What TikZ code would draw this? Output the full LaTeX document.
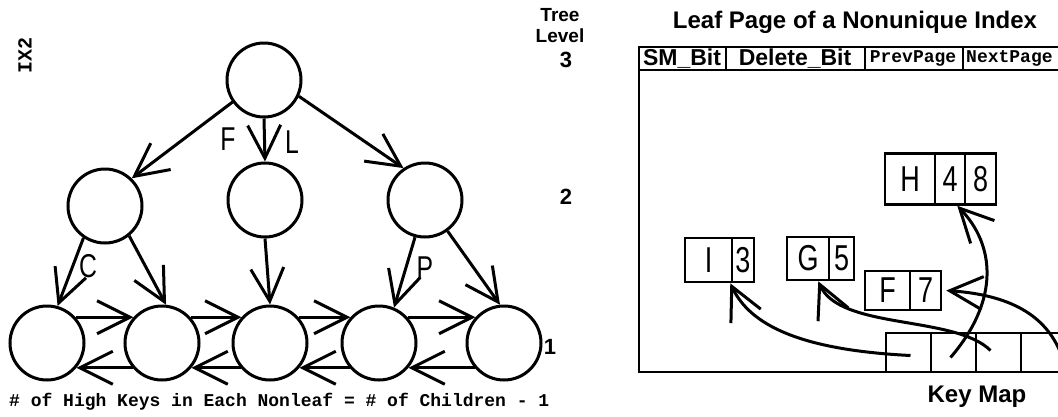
\documentclass[tikz,border=0pt]{standalone}
\usepackage{fontspec}
\setmainfont{Liberation Sans}
\newfontfamily\monof{Liberation Mono}
\newfontfamily\condf[FakeStretch=0.75]{Liberation Sans}
\usetikzlibrary{arrows.meta}
\begin{document}
\begin{tikzpicture}[x=1pt,y=-1pt,
  nd/.style={circle,draw,line width=3pt,minimum size=74pt,inner sep=0pt},
  arr/.style={line width=3pt,-{Straight Barb[length=33pt,width=33pt]}},
  ln/.style={line width=2.8pt},
  lbl/.style={inner sep=0pt,font=\condf\fontsize{33}{33}\selectfont},
  cell/.style={draw,line width=2.6pt,inner sep=0pt,font=\condf\fontsize{36}{36}\selectfont},
  kcell/.style={draw,line width=2.8pt,inner sep=0pt,minimum width=45pt,minimum height=39pt},
  hdr/.style={inner sep=0pt,font=\bfseries\fontsize{23}{23}\selectfont},
  mono/.style={inner sep=0pt,font=\monof\bfseries\fontsize{18}{18}\selectfont},
  lvl/.style={inner sep=0pt,font=\bfseries\fontsize{19}{21}\selectfont},
  num/.style={inner sep=0pt,font=\bfseries\fontsize{22}{22}\selectfont}]
\useasboundingbox (0,0) rectangle (1058,416);
\clip (0,0) rectangle (1058,416);

% ---------------- left: tree ----------------
\node[nd] (r)  at (264,80) {};
\node[nd] (a)  at (105,206) {};
\node[nd] (b)  at (265,200) {};
\node[nd] (c)  at (425,200) {};
\node[nd] (l1) at (47,343) {};
\node[nd] (l2) at (162,343) {};
\node[nd] (l3) at (270,343) {};
\node[nd] (l4) at (379,343) {};
\node[nd] (l5) at (504,343) {};

\draw[arr] (r.-145) -- (a.46);
\draw[arr] (r.south) -- (b.north);
\draw[arr] (r.-25) -- (c.124);
\draw[arr] (a.-124) -- (l1.74);
\draw[arr] (a.-51) -- (l2.84);
\draw[arr] (b.south) -- (l3.north);
\draw[arr] (c.-105) -- (l4.67);
\draw[arr] (c.-54) -- (l5.96);

\foreach \p/\q in {l1/l2,l2/l3,l3/l4,l4/l5}{
  \draw[arr] (\p.42) -- (\q.138);
  \draw[arr] (\q.-140) -- (\p.-40);
}

\node[lbl] (tF) at (228,139) {F};
\node[lbl] (tL) at (292,142) {L};
\node[lbl] (tC) at (88,266) {C};
\node[lbl] (tP) at (425,268) {P};

\node[mono,rotate=90,font=\monof\bfseries\fontsize{20}{20}\selectfont] (ix) at (25,55) {IX2};
\node[mono,anchor=west] (note) at (9,402) {\# of High Keys in Each Nonleaf = \# of Children - 1};

\node[lvl] (tree) at (560,15) {Tree};
\node[lvl] (level) at (560,36) {Level};
\node[num] (n3) at (566,60) {3};
\node[num] (n2) at (566,197) {2};
\node[num] (n1) at (550,347) {1};

% ---------------- right: leaf page ----------------
\node[hdr,font=\bfseries\fontsize{24}{24}\selectfont] (title) at (855,22) {Leaf Page of a Nonunique Index};

\draw[ln] (1100,47) -- (639,47) -- (639,372) -- (1100,372);
\draw[ln] (639,70) -- (1100,70);
\draw[ln] (726,47) -- (726,70);
\draw[ln] (865,47) -- (865,70);
\draw[ln] (963,47) -- (963,70);

\node[hdr] (sm) at (682,58.5) {SM\_Bit};
\node[hdr] (del) at (795,58.5) {Delete\_Bit};
\node[mono] (prev) at (913,58.5) {PrevPage};
\node[mono,anchor=west] (next) at (966,58.5) {NextPage};

% entries
\node[cell,minimum width=50pt,minimum height=51pt] (H)  at (910,179) {H};
\node[cell,minimum width=30pt,minimum height=51pt] (H4) at (950,179) {4};
\node[cell,minimum width=31pt,minimum height=51pt] (H8) at (980.5,179) {8};

\node[cell,minimum width=47pt,minimum height=44pt] (I)  at (708.5,260) {I};
\node[cell,minimum width=22pt,minimum height=44pt] (I3) at (743,260) {3};

\node[cell,minimum width=42pt,minimum height=43pt] (G)  at (808,258.5) {G};
\node[cell,minimum width=25pt,minimum height=43pt] (G5) at (841.5,258.5) {5};

\node[cell,minimum width=45pt,minimum height=39pt] (F)  at (887.5,290.5) {F};
\node[cell,minimum width=31pt,minimum height=39pt] (F7) at (925.5,290.5) {7};

% key map
\node[kcell] (k1) at (908.5,352.5) {};
\node[kcell] (k2) at (953.5,352.5) {};
\node[kcell] (k3) at (998.5,352.5) {};
\node[kcell] (k4) at (1043.5,352.5) {};
\node[kcell] (k5) at (1088.5,352.5) {};
\node[inner sep=0pt,font=\bfseries\fontsize{24}{24}\selectfont] (km) at (977,397) {Key Map};

\coordinate (s1) at ([xshift=2pt,yshift=-3pt]k1.center);
\coordinate (s2) at ([xshift=-3pt,yshift=-5pt]k2.center);
\coordinate (s3) at ([xshift=-8pt,yshift=2pt]k3.center);
\coordinate (s4) at ([xshift=17pt,yshift=0pt]k4.center);

\draw[arr] (s1) .. controls (800,350) and (750,325) .. ([xshift=-3pt]I.south east);
\draw[arr] (s3) .. controls (955,315) and (840,330) .. ([xshift=-12pt]G.south east);
\draw[arr] (s2) .. controls (1000,300) and (995,245) .. ([xshift=-9pt]H4.south east);
\draw[arr] (s4) .. controls (1045,315) and (1010,295) .. ([xshift=4pt]F7.east);
\end{tikzpicture}
\end{document}
